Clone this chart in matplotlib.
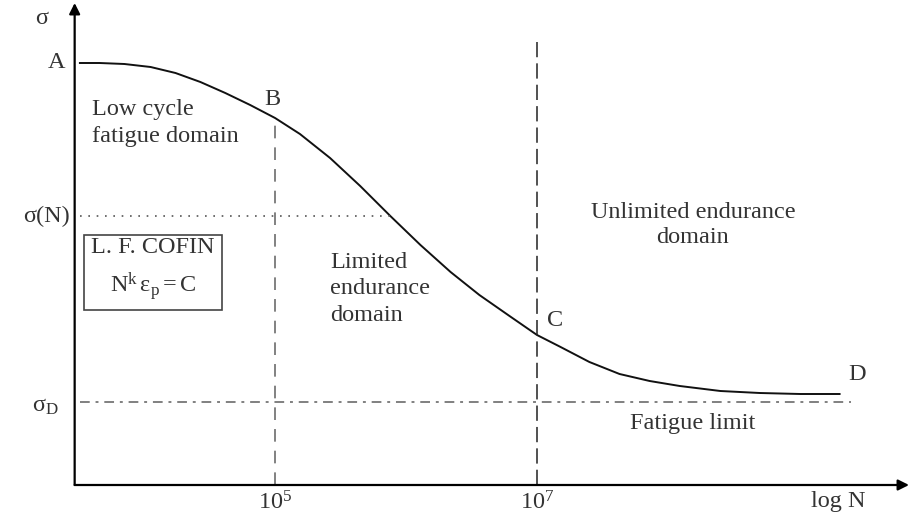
import matplotlib
matplotlib.use("Agg")
import matplotlib.pyplot as plt

plt.rcParams['font.family'] = ['Liberation Serif', 'DejaVu Serif']
plt.rcParams['mathtext.fontset'] = 'stix'

# S-N (Woehler) curve, x = log10 N, y = stress (arbitrary units)
log_n = [3.51, 3.66, 3.85, 4.05, 4.24, 4.43, 4.62, 4.81, 5.00, 5.19, 5.42,
         5.65, 5.88, 6.11, 6.34, 6.56, 6.79, 7.00, 7.18, 7.40, 7.63, 7.86,
         8.09, 8.40, 8.70, 9.01, 9.31]
sigma = [4.22, 4.22, 4.21, 4.18, 4.12, 4.03, 3.92, 3.80, 3.67, 3.51, 3.27,
         2.99, 2.69, 2.40, 2.13, 1.90, 1.69, 1.50, 1.38, 1.23, 1.11, 1.04,
         0.99, 0.94, 0.92, 0.91, 0.91]

sigma_a = 4.22
sigma_n = 2.69
sigma_d = 0.83
point_b = (5.0, 3.67)
point_c = (7.0, 1.50)
tick_pos = [5, 7]
tick_lab = [r'$\mathregular{10^5}$', r'$\mathregular{10^7}$']

x0, x1 = 3.47, 9.80
txt = '#333333'
fs = 17.5

fig = plt.figure(figsize=(9.09, 5.22), dpi=100)
ax = fig.add_axes([0, 0, 1, 1])
ax.set_xlim(2.90, 9.84)
ax.set_ylim(-0.37, 4.85)
ax.axis('off')

# axes with arrows
ax.annotate('', xy=(x1 + 0.04, 0), xytext=(x0, 0),
            arrowprops=dict(arrowstyle='-|>', color='black', lw=1.6,
                            mutation_scale=16, shrinkA=0, shrinkB=0))
ax.annotate('', xy=(x0, 4.82), xytext=(x0, 0),
            arrowprops=dict(arrowstyle='-|>', color='black', lw=1.6,
                            mutation_scale=16, shrinkA=0, shrinkB=0))

# curve
ax.plot(log_n, sigma, color='#111111', lw=1.4)

# guide lines
ax.plot([point_b[0], point_b[0]], [0, point_b[1]], color='#777777',
        lw=1.3, dashes=(7, 5))
ax.plot([point_c[0], point_c[0]], [0, 4.43], color='#222222',
        lw=1.1, dashes=(10, 4))
ax.plot([x0 + 0.04, 5.88], [sigma_n, sigma_n], color='#555555',
        lw=1.2, dashes=(1, 4))
ax.plot([x0 + 0.04, 9.40], [sigma_d, sigma_d], color='#808080',
        lw=1.4, dashes=(5, 3, 1.5, 3))

# ticks
for p, lab in zip(tick_pos, tick_lab):
    ax.text(p, -0.06, lab, ha='center', va='top', fontsize=fs, color=txt)
ax.text(9.30, -0.06, 'log N', ha='center', va='top', fontsize=fs, color=txt)

# y labels
ax.text(3.22, 4.66, 'σ', ha='center', va='center', fontsize=fs, color=txt)
ax.text(3.40, sigma_a, 'A', ha='right', va='center', fontsize=fs, color=txt)
ax.text(3.43, sigma_n, 'σ(N)', ha='right', va='center', fontsize=fs, color=txt)
ax.text(3.35, sigma_d - 0.04, r'$\mathregular{\sigma_D}$', ha='right',
        va='center', fontsize=fs, color=txt)

# point labels
ax.text(point_b[0] - 0.02, point_b[1] + 0.08, 'B', ha='center',
        va='bottom', fontsize=fs, color=txt)
ax.text(point_c[0] + 0.14, point_c[1] + 0.14, 'C', ha='center',
        va='center', fontsize=fs, color=txt)
ax.text(9.44, 1.10, 'D', ha='center', va='center', fontsize=fs, color=txt)

# domain text
ax.text(3.60, 3.62, 'Low cycle\nfatigue domain', ha='left', va='center',
        fontsize=fs, color=txt, linespacing=1.38)
ax.text(5.42, 1.96, 'Limited\nendurance\ndomain', ha='left', va='center',
        fontsize=fs, color=txt, linespacing=1.35)
ax.text(8.19, 2.60, 'Unlimited endurance\ndomain', ha='center',
        va='center', fontsize=fs, color=txt, linespacing=1.3)
ax.text(8.19, 0.61, 'Fatigue limit', ha='center', va='center',
        fontsize=fs, color=txt)
ax.text(4.07, 2.15, 'L. F. COFIN\n' + r'$\mathregular{N^k\,\epsilon_p = C}$',
        ha='center', va='center', fontsize=fs, color=txt, linespacing=1.55,
        bbox=dict(boxstyle='square,pad=0.3', fc='white', ec='#444444',
                  lw=1.2))

fig.savefig('out.png', dpi=100)
